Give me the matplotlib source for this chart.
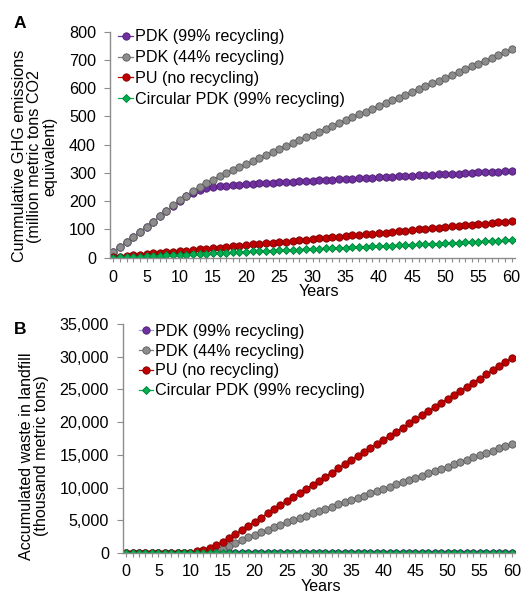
import matplotlib
matplotlib.use("Agg")
import matplotlib.pyplot as plt
from matplotlib.ticker import MultipleLocator, FuncFormatter

plt.rcParams['font.family'] = ['Liberation Sans', 'DejaVu Sans']

years = list(range(61))
labels = ["PDK (99% recycling)", "PDK (44% recycling)", "PU (no recycling)",
          "Circular PDK (99% recycling)"]

# panel A: cumulative GHG emissions (million t CO2 eq)
ghg_pdk99 = [20, 38, 56, 74, 92, 110, 128, 146, 165, 184, 202,
             217, 229, 239, 246, 250, 253, 255, 257, 259, 261,
             262, 263, 264, 266, 267, 268, 269, 270, 271, 273,
             274, 275, 276, 277, 278, 280, 281, 282, 283, 284,
             285, 287, 288, 289, 290, 291, 292, 294, 295, 296,
             297, 298, 299, 301, 302, 303, 304, 305, 306, 308]
ghg_pdk44 = [20, 38, 56, 74, 92, 110, 128, 147, 166, 185, 203,
             220, 236, 250, 263, 276, 289, 301, 312, 321, 330,
             341, 352, 362, 373, 384, 394, 405, 415, 426, 436,
             446, 456, 466, 476, 487, 497, 507, 517, 527, 537,
             547, 557, 567, 577, 587, 597, 607, 617, 627, 637,
             647, 657, 667, 677, 687, 697, 707, 717, 727, 738]
ghg_pu = [2, 4, 6, 9, 11, 13, 15, 17, 19, 21, 23,
          25, 28, 30, 32, 34, 36, 38, 40, 42, 45,
          47, 49, 51, 53, 55, 57, 59, 62, 64, 66,
          68, 70, 72, 74, 77, 79, 81, 83, 85, 87,
          89, 91, 94, 96, 98, 100, 102, 104, 106, 108,
          111, 113, 115, 117, 119, 121, 123, 126, 128, 130]
ghg_circ = [0, 1, 2, 3, 4, 5, 6, 7, 8, 9, 10,
            11, 12, 13, 14, 15, 16, 18, 19, 20, 21,
            22, 23, 24, 25, 26, 27, 28, 29, 30, 31,
            32, 33, 34, 35, 36, 37, 38, 39, 40, 41,
            42, 43, 44, 45, 46, 47, 48, 49, 50, 51,
            52, 53, 55, 56, 57, 58, 59, 60, 61, 62]

# panel B: accumulated waste in landfill (thousand t)
waste_pdk99 = [0, 0, 0, 0, 0, 0, 0, 0, 0, 0, 10,
               20, 30, 30, 30, 30, 30, 30, 30, 30, 30,
               30, 30, 30, 30, 30, 30, 30, 30, 30, 30,
               30, 30, 30, 30, 30, 30, 30, 30, 30, 30,
               30, 30, 30, 30, 30, 30, 30, 30, 30, 30,
               30, 30, 30, 30, 30, 30, 30, 30, 30, 30]
waste_pdk44 = [0, 0, 0, 0, 0, 0, 0, 0, 0, 0, 0,
               0, 0, 0, 150, 600, 1050, 1500, 1950, 2380, 2800,
               3180, 3560, 3940, 4320, 4700, 5040, 5380, 5720, 6060, 6400,
               6740, 7080, 7420, 7760, 8100, 8440, 8780, 9120, 9460, 9800,
               10140, 10480, 10820, 11160, 11500, 11840, 12180, 12520, 12860, 13200,
               13550, 13900, 14250, 14600, 14950, 15300, 15650, 16000, 16350, 16700]
waste_pu = [0, 0, 0, 0, 0, 0, 0, 0, 0, 0, 50,
            250, 500, 820, 1200, 1700, 2250, 2850, 3500, 4150, 4800,
            5420, 6050, 6670, 7300, 7920, 8550, 9170, 9800, 10420, 11050,
            11670, 12300, 12920, 13550, 14170, 14800, 15420, 16050, 16670, 17300,
            17920, 18550, 19170, 19800, 20420, 21050, 21670, 22300, 22920, 23550,
            24170, 24800, 25420, 26050, 26670, 27300, 27920, 28550, 29170, 29800]
waste_circ = [0, 0, 0, 0, 0, 0, 0, 0, 0, 0, 0,
              0, 0, 0, 0, 0, 0, 0, 0, 0, 0,
              0, 0, 0, 0, 0, 0, 0, 0, 0, 0,
              0, 0, 0, 0, 0, 0, 0, 0, 0, 0,
              0, 0, 0, 0, 0, 0, 0, 0, 0, 0,
              0, 0, 0, 0, 0, 0, 0, 0, 0, 0]

styles = [
    dict(marker="o", color="#7030A0", mfc="#7030A0", mec="#4B1E6E", ms=5.3),
    dict(marker="o", color="#7F7F7F", mfc="#8C8C8C", mec="#5A5A5A", ms=5.3),
    dict(marker="o", color="#C00000", mfc="#C00000", mec="#7A0000", ms=5.3),
    dict(marker="D", color="#00B050", mfc="#00B050", mec="#007A38", ms=4),
]

FS = 11.6
AXIS_COL = "#8C8C8C"


def style_axes(ax, ymax, ystep, xlab_pos, xpad=6):
    ax.set_xlim(-0.5, 60.5)
    ax.set_ylim(0, ymax)
    ax.yaxis.set_major_locator(MultipleLocator(ystep))
    ax.xaxis.set_major_locator(MultipleLocator(5))
    ax.xaxis.set_minor_locator(MultipleLocator(1))
    for s in ["top", "right"]:
        ax.spines[s].set_visible(False)
    for s in ["left", "bottom"]:
        ax.spines[s].set_color(AXIS_COL)
        ax.spines[s].set_linewidth(1.0)
    ax.tick_params(axis="y", direction="out", length=4, width=0.8,
                   color=AXIS_COL, labelsize=FS, pad=6)
    ax.tick_params(axis="x", which="both", direction="out", length=3,
                   width=0.8, color=AXIS_COL, labelsize=FS, pad=xpad)
    ax.set_xlabel("Years", fontsize=FS)
    ax.xaxis.set_label_coords(*xlab_pos)


def draw(ax, series, line_colors=None):
    for i, (vals, lab, st) in enumerate(zip(series, labels, styles)):
        st = dict(st)
        if line_colors and line_colors[i]:
            st["color"] = line_colors[i]
        ax.plot(years, vals, label=lab, lw=0.9, mew=0.6, **st)


fig = plt.figure(figsize=(5.31, 5.93), dpi=100)

# panel A
ax1 = fig.add_axes([110 / 531, 1 - 257.7 / 593, 405 / 531, 226 / 593])
draw(ax1, [ghg_pdk99, ghg_pdk44, ghg_pu, ghg_circ])
style_axes(ax1, 800, 100, (0.515, -0.118))
ax1.legend(loc="upper left", bbox_to_anchor=(-0.007, 1.06), frameon=False,
           fontsize=FS, handlelength=0.9, handletextpad=0.12,
           labelspacing=0.36, borderaxespad=0.3)
fig.text(35 / 531, 1 - 156 / 593,
         "Cummulative GHG emissions\n(million metric tons CO2\nequivalent)",
         rotation=90, ha="center", va="center", multialignment="center",
         fontsize=FS, linespacing=1.02)
fig.text(20 / 531, 1 - 23 / 593, "A", fontsize=12.5, fontweight="bold",
         ha="center", va="center")

# panel B
ax2 = fig.add_axes([123 / 531, 1 - 553 / 593, 392 / 531, 229 / 593])
draw(ax2, [waste_pdk99, waste_pdk44, waste_pu, waste_circ],
     line_colors=["#8FAADC", None, None, None])
style_axes(ax2, 35000, 5000, (0.505, -0.113), xpad=5)
ax2.yaxis.set_major_formatter(FuncFormatter(lambda v, p: f"{int(v):,}"))
ax2.legend(loc="upper left", bbox_to_anchor=(0.012, 1.05), frameon=False,
           fontsize=FS, handlelength=0.9, handletextpad=0.12,
           labelspacing=0.3, borderaxespad=0.3)
fig.text(34 / 531, 1 - 456 / 593,
         "Accumulated waste in landfill\n(thousand metric tons)",
         rotation=90, ha="center", va="center", multialignment="center",
         fontsize=FS, linespacing=1.02)
fig.text(20 / 531, 1 - 329 / 593, "B", fontsize=12.5, fontweight="bold",
         ha="center", va="center")

fig.savefig("out.png", dpi=100)
